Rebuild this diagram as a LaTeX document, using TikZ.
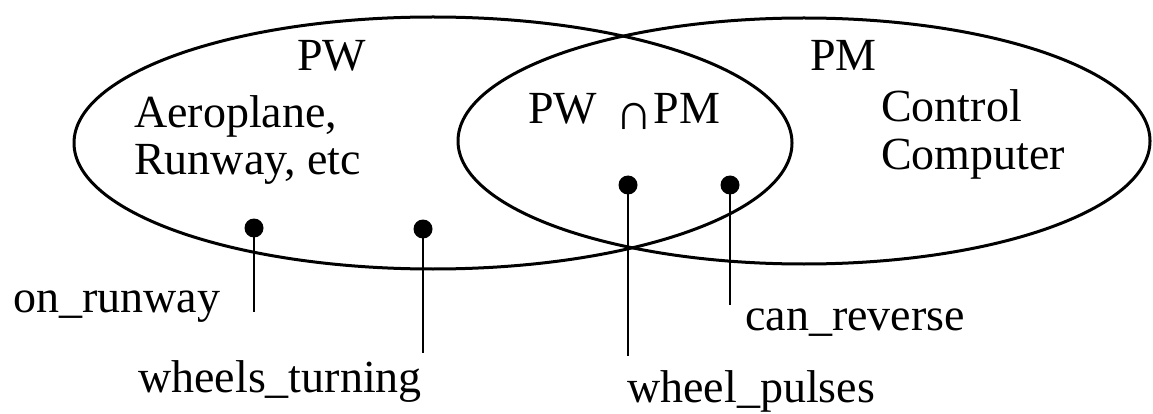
\documentclass[tikz,border=0pt]{standalone}
\usepackage{fontspec}
\setmainfont{Liberation Serif}
\begin{document}
\begin{tikzpicture}[x=1pt,y=-1pt,
  setline/.style={line width=3pt},
  lbl/.style={anchor=base west, inner sep=0pt, font=\fontsize{46}{50}\selectfont},
  dot/.style={circle, fill=black, inner sep=0pt, minimum size=19pt},
  lead/.style={line width=1.6pt}]
\useasboundingbox (0,0) rectangle (1153,414);
% sets
\draw[setline] (433,143) ellipse [x radius=359, y radius=126];
\draw[setline] (804,141) ellipse [x radius=346, y radius=123];
% labels inside the sets
\node[lbl] (pw) at (297,71) {PW};
\node[lbl] (aero) at (134,128) {Aeroplane,};
\node[lbl] (runway) at (134,175) {Runway, etc};
\node[lbl] (pwpm) at (528,124) {PW\hspace{18pt}\raisebox{-6pt}{\fontsize{52}{52}\selectfont ∩}\hspace{1pt}PM};
\node[lbl] (pm) at (810,71) {PM};
\node[lbl] (control) at (881,122) {Control};
\node[lbl] (computer) at (881,170) {Computer};
% phenomena
\node[dot] (d1) at (254,228) {};
\node[dot] (d2) at (423,229) {};
\node[dot] (d3) at (628,185) {};
\node[dot] (d4) at (730,185) {};
\coordinate (e1) at (254,312);
\coordinate (e2) at (423,353);
\coordinate (e3) at (628,356);
\coordinate (e4) at (730,305);
\draw[lead] (d1.center) -- (e1);
\draw[lead] (d2.center) -- (e2);
\draw[lead] (d3.center) -- (e3);
\draw[lead] (d4.center) -- (e4);
\node[lbl] (onrunway) at (13,312) {on\_runway};
\node[lbl] (wturning) at (138,392) {wheels\_turning};
\node[lbl] (wpulses) at (627,402) {wheel\_pulses};
\node[lbl] (canrev) at (745,330) {can\_reverse};
\end{tikzpicture}
\end{document}
